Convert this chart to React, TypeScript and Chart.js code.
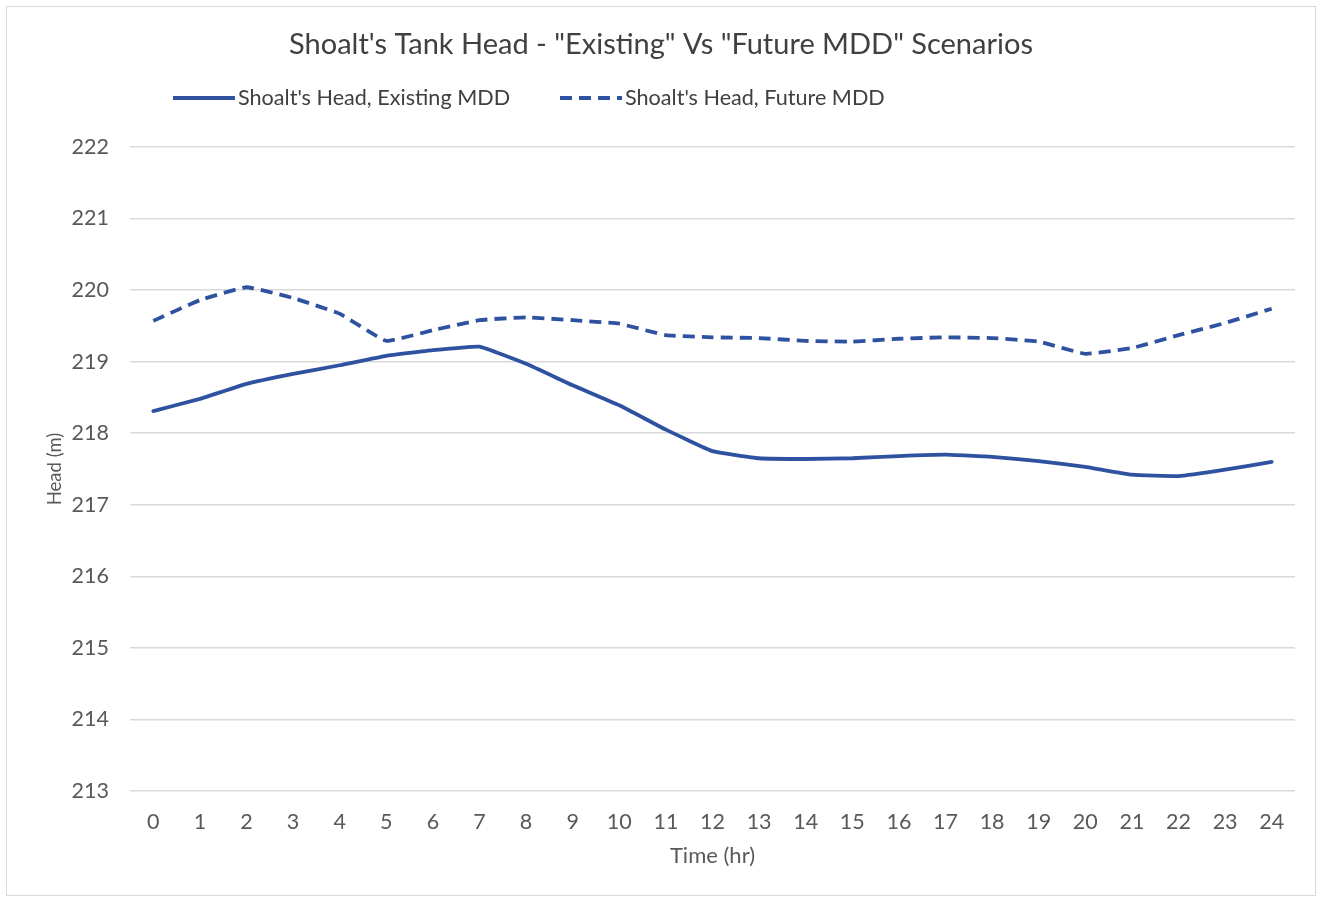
import React, { useEffect, useRef } from "react";
import { Chart, registerables } from "chart.js";

Chart.register(...registerables);

const hours = ["0","1","2","3","4","5","6","7","8","9","10","11","12","13","14","15","16","17","18","19","20","21","22","23","24"];
const existingMDD = [218.31,218.48,218.69,218.83,218.95,219.08,219.16,219.21,218.97,218.67,218.39,218.05,217.75,217.65,217.64,217.65,217.68,217.70,217.67,217.61,217.53,217.42,217.40,217.49,217.60];
const futureMDD = [219.57,219.86,220.04,219.89,219.67,219.29,219.44,219.58,219.62,219.58,219.53,219.37,219.34,219.33,219.29,219.28,219.32,219.34,219.33,219.28,219.11,219.19,219.37,219.54,219.74];
const seriesLabels = ["Shoalt's Head, Existing MDD", "Shoalt's Head, Future MDD"];
const titleText = "Shoalt's Tank Head - \"Existing\" Vs \"Future MDD\" Scenarios";
const yMin = 213;
const yMax = 222;

const FONT = "Lato, 'Open Sans', sans-serif";
const LINE = "#2E52A0";

export default function App() {
  const ref = useRef<HTMLCanvasElement | null>(null);

  useEffect(() => {
    if (!ref.current) return;
    const legendPlugin = {
      id: "customLegend",
      afterDraw(chart: any) {
        const ctx = chart.ctx as CanvasRenderingContext2D;
        const xs = [166, 553];
        const y = 91;
        chart.data.datasets.forEach((ds: any, i: number) => {
          ctx.save();
          ctx.strokeStyle = ds.borderColor;
          ctx.lineWidth = ds.borderWidth;
          ctx.setLineDash(ds.borderDash || []);
          ctx.beginPath();
          ctx.moveTo(xs[i], y);
          ctx.lineTo(xs[i] + 62, y);
          ctx.stroke();
          ctx.setLineDash([]);
          ctx.fillStyle = "#404040";
          ctx.font = `21.6px ${FONT}`;
          ctx.textBaseline = "middle";
          ctx.textAlign = "left";
          ctx.fillText(ds.label, xs[i] + 65, y);
          ctx.restore();
        });
      },
    };

    const chart = new Chart(ref.current, {
      type: "line",
      data: {
        labels: hours,
        datasets: [
          {
            label: seriesLabels[0],
            data: existingMDD,
            borderColor: LINE,
            backgroundColor: LINE,
            borderWidth: 3.8,
            pointRadius: 0,
            tension: 0.1,
            borderCapStyle: "round",
            borderJoinStyle: "round",
          },
          {
            label: seriesLabels[1],
            data: futureMDD,
            borderColor: LINE,
            backgroundColor: LINE,
            borderWidth: 3.8,
            borderDash: [12, 7],
            pointRadius: 0,
            tension: 0.1,
            borderJoinStyle: "round",
          },
        ],
      },
      options: {
        responsive: false,
        animation: false,
        layout: { padding: { left: 0, right: 0, top: 0, bottom: 0 } },
        plugins: {
          legend: { display: false },
          tooltip: { enabled: false },
          title: {
            display: true,
            text: titleText,
            color: "#404040",
            font: { family: FONT, size: 29, weight: "normal" },
            padding: { top: 20.6, bottom: 84.6 },
          },
        },
        scales: {
          x: {
            type: "category",
            offset: true,
            grid: { display: false, drawTicks: false },
            border: { display: false },
            ticks: {
              color: "#595959",
              font: { family: FONT, size: 21.5 },
              padding: 18,
              maxRotation: 0,
              autoSkip: false,
            },
            title: {
              display: true,
              text: "Time (hr)",
              color: "#595959",
              font: { family: FONT, size: 22 },
              padding: { top: 0, bottom: 26 },
            },
            afterFit(scale: any) {
              scale.height = 104;
            },
          },
          y: {
            min: yMin,
            max: yMax,
            grid: { color: "#d9d9d9", lineWidth: 1.5, drawTicks: false },
            border: { display: false },
            ticks: {
              stepSize: 1,
              color: "#595959",
              font: { family: FONT, size: 21.5 },
              padding: 21,
            },
            title: {
              display: true,
              text: "Head (m)",
              color: "#595959",
              font: { family: FONT, size: 18.5 },
              padding: { top: 37, bottom: 0 },
            },
            afterFit(scale: any) {
              scale.width = 123;
            },
          },
          yRightSpacer: {
            type: "linear",
            position: "right",
            display: true,
            min: yMin,
            max: yMax,
            grid: { display: false, drawTicks: false },
            border: { display: false },
            ticks: { display: false },
            afterFit(scale: any) {
              scale.width = 20;
            },
          },
        },
      },
      plugins: [legendPlugin],
    });
    return () => chart.destroy();
  }, []);

  return (
    <div
      style={{
        position: "absolute",
        left: 6,
        top: 6,
        width: 1310,
        height: 890,
        border: "1px solid #d9d9d9",
        boxSizing: "border-box",
        background: "#fff",
      }}
    >
      <canvas ref={ref} width={1308} height={888} style={{ display: "block" }} />
    </div>
  );
}
